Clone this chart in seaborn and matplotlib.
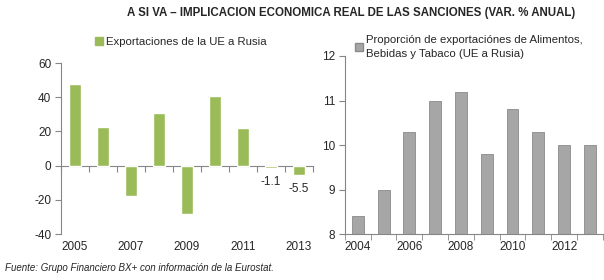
import matplotlib
matplotlib.use("Agg")
import matplotlib.pyplot as plt
from matplotlib.patches import Patch
import seaborn as sns
import pandas as pd
import numpy as np

sns.set_style("white")
plt.rcParams["font.family"] = ["Liberation Sans", "DejaVu Sans"]
plt.rcParams["axes.unicode_minus"] = False

# data
years_left = ["2005", "2006", "2007", "2008", "2009", "2010", "2011", "2012", "2013"]
exports_var = [47.5, 22.5, -18.0, 30.5, -28.5, 40.5, 22.0, -1.1, -5.5]
years_right = ["2004", "2005", "2006", "2007", "2008", "2009", "2010", "2011", "2012", "2013"]
food_share = [8.4, 9.0, 10.3, 11.0, 11.2, 9.8, 10.8, 10.3, 10.0, 10.0]

GREEN = "#9BBB59"
GREY = "#A6A6A6"
SPINE = "#868686"
FS = 8.5
LFS = 8.2

fig = plt.figure(figsize=(6.04, 2.8), dpi=100)
fig.patch.set_facecolor("white")

fig.text(0.581, 0.955, "A SI VA – IMPLICACION ECONOMICA REAL DE LAS SANCIONES (VAR. % ANUAL)",
         ha="center", va="center", fontsize=8.3, fontweight="bold")

# ---- left chart: exports EU -> Russia
ax1 = fig.add_axes([0.101, 0.164, 0.417, 0.611])
df1 = pd.DataFrame({"year": years_left, "val": exports_var})
sns.barplot(data=df1, x="year", y="val", color=GREEN, width=0.43,
            saturation=1, ax=ax1)
ax1.set_ylim(-40, 60)
ax1.set_xlim(-0.5, len(years_left) - 0.5)
ax1.set_yticks([-40, -20, 0, 20, 40, 60])
ax1.set_xticks(range(0, len(years_left), 2))
ax1.set_xticklabels(years_left[::2])
ax1.tick_params(axis="x", length=0, labelsize=FS, pad=5)
ax1.tick_params(axis="y", length=4, color=SPINE, labelsize=FS, direction="out", left=True, pad=3)
for s in ["top", "right", "bottom"]:
    ax1.spines[s].set_visible(False)
ax1.spines["left"].set_color(SPINE)
ax1.set_xlabel("")
ax1.set_ylabel("")

# zero line with category-boundary ticks
sec = ax1.secondary_xaxis(0.4)
sec.set_xticks(np.arange(-0.5, len(years_left), 1.0))
sec.tick_params(axis="x", length=4, color=SPINE, labelbottom=False, direction="out")
sec.spines["bottom"].set_color(SPINE)

cont = ax1.containers[0]
labels = ["" for _ in exports_var]
labels[-2] = f"{exports_var[-2]:.1f}"
labels[-1] = f"{exports_var[-1]:.1f}"
ax1.bar_label(cont, labels=labels, padding=6, fontsize=FS)

ax1.legend(handles=[Patch(facecolor=GREEN, edgecolor=GREEN, label="Exportaciones de la UE a Rusia")],
           loc="lower left", bbox_to_anchor=(0.134, 1.096), frameon=False, fontsize=LFS,
           handlelength=0.7, handleheight=0.7, handletextpad=0.3, borderpad=0, borderaxespad=0)

# ---- right chart: food/beverage/tobacco share
ax2 = fig.add_axes([0.571, 0.164, 0.427, 0.636])
df2 = pd.DataFrame({"year": years_right, "val": food_share})
sns.barplot(data=df2, x="year", y="val", color=GREY, width=0.46, saturation=1,
            edgecolor="#8A8A8A", linewidth=0.6, ax=ax2)
ax2.set_ylim(8, 12)
ax2.set_xlim(-0.5, len(years_right) - 0.5)
ax2.set_yticks([8, 9, 10, 11, 12])
ax2.set_xticks(range(0, len(years_right), 2))
ax2.set_xticklabels(years_right[::2])
ax2.set_xticks(np.arange(-0.5, len(years_right), 1.0), minor=True)
ax2.tick_params(axis="x", which="major", length=0, labelsize=FS, pad=5)
ax2.tick_params(axis="x", which="minor", length=4, color=SPINE, direction="out", bottom=True)
ax2.tick_params(axis="y", length=4, color=SPINE, labelsize=FS, direction="out", left=True, pad=3)
for s in ["top", "right"]:
    ax2.spines[s].set_visible(False)
ax2.spines["left"].set_color(SPINE)
ax2.spines["bottom"].set_color(SPINE)
ax2.set_xlabel("")
ax2.set_ylabel("")

leg2 = ax2.legend(handles=[Patch(facecolor=GREY, edgecolor="#8A8A8A",
                                 label="Proporción de exportaciónes de Alimentos,\nBebidas y Tabaco (UE a Rusia)")],
                  loc="upper left", bbox_to_anchor=(0.038, 1.12), frameon=False, fontsize=LFS,
                  handlelength=0.7, handleheight=0.7, handletextpad=0.3, borderpad=0,
                  borderaxespad=0)
leg2.get_texts()[0].set_linespacing(1.55)

fig.text(0.008, 0.043, "Fuente: Grupo Financiero BX+ con información de la Eurostat.",
         fontsize=7, style="italic", va="center")

fig.savefig("out.png", dpi=100)
